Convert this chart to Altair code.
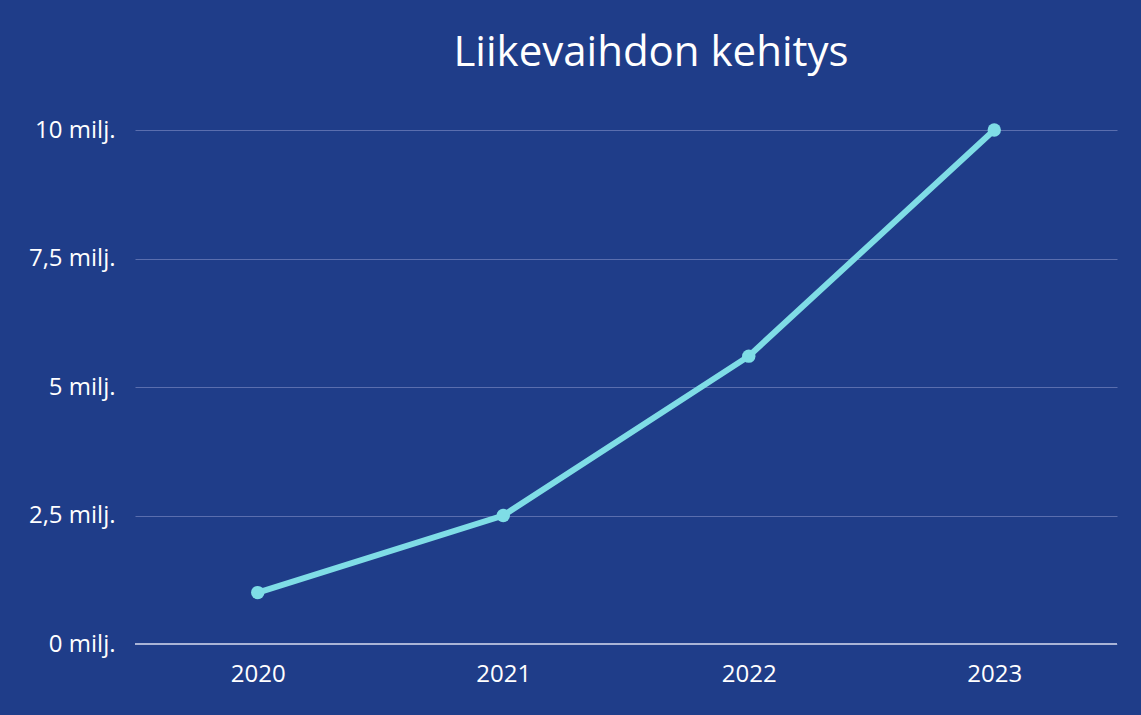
import altair as alt
import pandas as pd

years = ["2020", "2021", "2022", "2023"]
revenue = [1.0, 2.5, 5.6, 10.0]
y_ticks = [0, 2.5, 5, 7.5, 10]

df = pd.DataFrame({"year": years, "revenue": revenue})

BG = "#1f3d89"
LINE = "#7fdde6"
FONT = "Open Sans"

base = alt.Chart(df)

line = base.mark_line(color=LINE, strokeWidth=6, point=alt.OverlayMarkDef(color=LINE, size=180, opacity=1, filled=True)).encode(
    x=alt.X("year:O", sort=years, title=None,
            scale=alt.Scale(type="point", padding=0.5),
            axis=alt.Axis(labelAngle=0, domain=False, ticks=False, labelPadding=18,
                          labelFontSize=24, labelColor="white", labelFont=FONT, grid=False)),
    y=alt.Y("revenue:Q", title=None,
            scale=alt.Scale(domain=[0, 10], nice=False),
            axis=alt.Axis(values=y_ticks, domain=False, ticks=False, labelPadding=20,
                          labelFontSize=24, labelColor="white", labelFont=FONT,
                          gridColor="#5a6eae", gridWidth=1,
                          labelExpr="replace(toString(datum.value), '.', ',') + ' milj.'")),
)

zero = alt.Chart(pd.DataFrame({"z": [0]})).mark_rule(color="#a9b4d6", strokeWidth=2).encode(
    y=alt.Y("z:Q", scale=alt.Scale(domain=[0, 10], nice=False))
)

chart = alt.layer(zero, line).properties(
    width=982,
    height=514,
    background=BG,
    padding={"left": 135, "top": 130, "right": 24, "bottom": 71},
    autosize=alt.AutoSizeParams(type="none"),
    title=alt.TitleParams(
        "Liikevaihdon kehitys", fontSize=42, color="white", font=FONT, fontWeight="normal",
        anchor="middle", dx=25, offset=10, baseline="alphabetic"
    ),
).configure_view(stroke=None)

chart.save("out.html", embed_options={"renderer": "svg", "actions": False})
